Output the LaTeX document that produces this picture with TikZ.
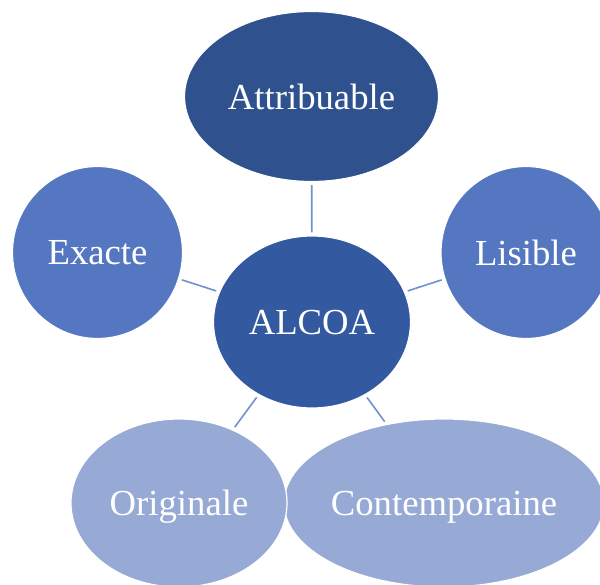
\documentclass[tikz,border=0pt]{standalone}
\usepackage{fontspec}
\setmainfont{Liberation Serif}
\usetikzlibrary{shapes.geometric}

\definecolor{darkblue}{HTML}{2F528F}
\definecolor{midblue}{HTML}{3359A0}
\definecolor{blue}{HTML}{5577C1}
\definecolor{paleblue}{HTML}{97AAD5}
\definecolor{linkblue}{HTML}{7090D0}

\begin{document}
\begin{tikzpicture}[x=1pt,y=-1pt,
    bubble/.style={ellipse,draw=white,line width=1.2pt,inner sep=0pt,text depth=0pt,
        text=white,font=\fontsize{36.7}{40}\selectfont},
    link/.style={draw=linkblue,line width=1.6pt,shorten >=3pt,shorten <=3pt}]
    % Page frame
    \useasboundingbox (0,0) rectangle (600,585);
    \clip (0,0) rectangle (600,585);

    % Outer bubbles
    \node[bubble,fill=darkblue,minimum width=254pt,minimum height=170pt] (attr) at (311.5,96.5) {Attribuable};
    \node[bubble,fill=blue,minimum width=170pt,minimum height=172pt] (exacte) at (97.5,252.5) {Exacte};
    \node[bubble,fill=blue,minimum width=170pt,minimum height=172pt] (lisible) at (526,252.5) {Lisible};
    \node[bubble,fill=paleblue,minimum width=320pt,minimum height=168pt] (contemp) at (444,503) {Contemporaine};
    \node[bubble,fill=paleblue,minimum width=216pt,minimum height=168pt] (orig) at (179,503) {Originale};

    % Centre
    \node[bubble,fill=midblue,minimum width=197pt,minimum height=172pt] (alcoa) at (312,322) {ALCOA};

    % Spokes
    \draw[link] (alcoa) -- (attr);
    \draw[link] (alcoa) -- (exacte);
    \draw[link] (alcoa) -- (lisible);
    \draw[link] (alcoa) -- (orig);
    \draw[link] (alcoa) -- (contemp);
\end{tikzpicture}
\end{document}
